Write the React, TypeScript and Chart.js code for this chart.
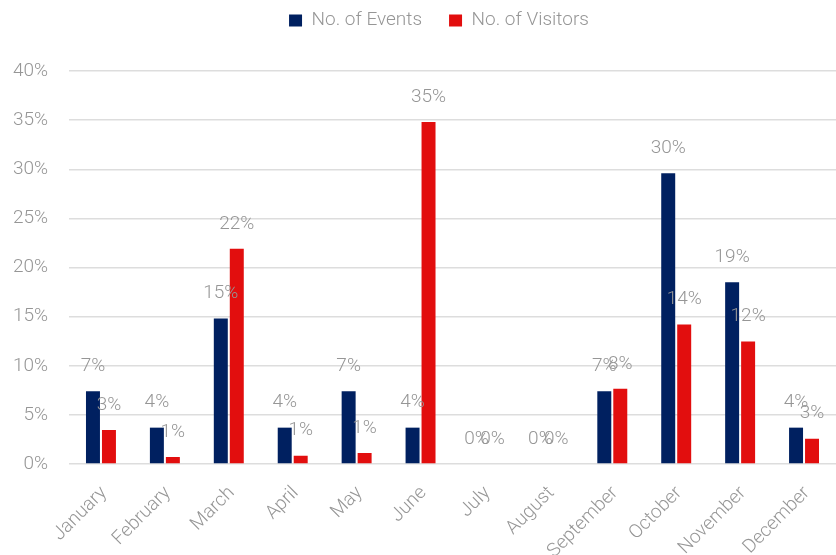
import React, { useEffect, useRef } from "react";
import { Chart, registerables } from "chart.js";

Chart.register(...registerables);

const months = [
  "January", "February", "March", "April", "May", "June",
  "July", "August", "September", "October", "November", "December",
];
const eventsPct = [7.4, 3.7, 14.8, 3.7, 7.4, 3.7, 0, 0, 7.4, 29.6, 18.5, 3.7];
const visitorsPct = [3.46, 0.71, 21.9, 0.84, 1.12, 34.8, 0, 0, 7.65, 14.2, 12.46, 2.57];
const seriesNames = ["No. of Events", "No. of Visitors"];
const seriesColors = ["#002060", "#E20E0E"];

const FONT = "Roboto";
const GRAY = "#969696";
const FS = 19;
const TOP_PAD = -16;

const dataLabelPlugin = {
  id: "dataLabels",
  afterDatasetsDraw(chart: any) {
    const ctx = chart.ctx;
    ctx.save();
    ctx.font = `300 ${FS}px ${FONT}`;
    ctx.fillStyle = GRAY;
    ctx.textAlign = "center";
    ctx.textBaseline = "middle";
    chart.data.datasets.forEach((ds: any, di: number) => {
      const meta = chart.getDatasetMeta(di);
      meta.data.forEach((el: any, i: number) => {
        const v = ds.data[i];
        ctx.fillText(Math.round(v) + "%", el.x, el.y - 25);
      });
    });
    ctx.restore();
  },
};

const legendTweak = {
  id: "legendTweak",
  beforeInit(chart: any) {
    const lg = chart.legend;
    if (lg && !lg.__patched) {
      const orig = lg.fit.bind(lg);
      lg.fit = function () {
        orig();
        this.height = 71 - TOP_PAD;
      };
      lg.__patched = true;
    }
  },
  afterLayout(chart: any) {
    const lg = chart.legend;
    if (lg) {
      lg.left += 21;
      lg.right += 21;
    }
  },
};

export default function App() {
  const ref = useRef<HTMLCanvasElement>(null);
  useEffect(() => {
    if (!ref.current) return;
    const chart = new Chart(ref.current, {
      type: "bar",
      data: {
        labels: months,
        datasets: [
          {
            label: seriesNames[0],
            data: eventsPct,
            backgroundColor: seriesColors[0],
            categoryPercentage: 0.5,
            barPercentage: 0.875,
          },
          {
            label: seriesNames[1],
            data: visitorsPct,
            backgroundColor: seriesColors[1],
            categoryPercentage: 0.5,
            barPercentage: 0.875,
          },
        ],
      },
      options: {
        responsive: false,
        animation: false,
        layout: { padding: { top: TOP_PAD, left: 0, right: 0, bottom: 0 } },
        plugins: {
          legend: {
            position: "top",
            align: "center",
            labels: {
              boxWidth: 13,
              boxHeight: 12,
              padding: 27,
              color: GRAY,
              font: { family: FONT, size: FS, weight: "300" as any },
            },
          },
          tooltip: { enabled: false },
        },
        scales: {
          x: {
            grid: { display: false },
            border: { display: false },
            ticks: {
              color: GRAY,
              font: { family: FONT, size: FS, weight: "300" as any },
              minRotation: 45,
              maxRotation: 45,
              padding: 10,
              labelOffset: 3,
            },
            afterFit(scale: any) {
              scale.height = 91;
            },
          },
          y: {
            min: 0,
            max: 40,
            grid: { color: "#DDDDDD", lineWidth: 1.5, drawTicks: false },
            border: { display: false },
            ticks: {
              stepSize: 5,
              padding: 21,
              color: GRAY,
              font: { family: FONT, size: FS, weight: "300" as any },
              callback: (v: any) => v + "%",
            },
            afterFit(scale: any) {
              scale.width = 69;
            },
          },
        },
      },
      plugins: [dataLabelPlugin, legendTweak],
    });
    return () => chart.destroy();
  }, []);
  return (
    <div style={{ position: "absolute", left: 0, top: 0, width: 836, height: 555, background: "#fff" }}>
      <canvas ref={ref} width={836} height={555} />
    </div>
  );
}
